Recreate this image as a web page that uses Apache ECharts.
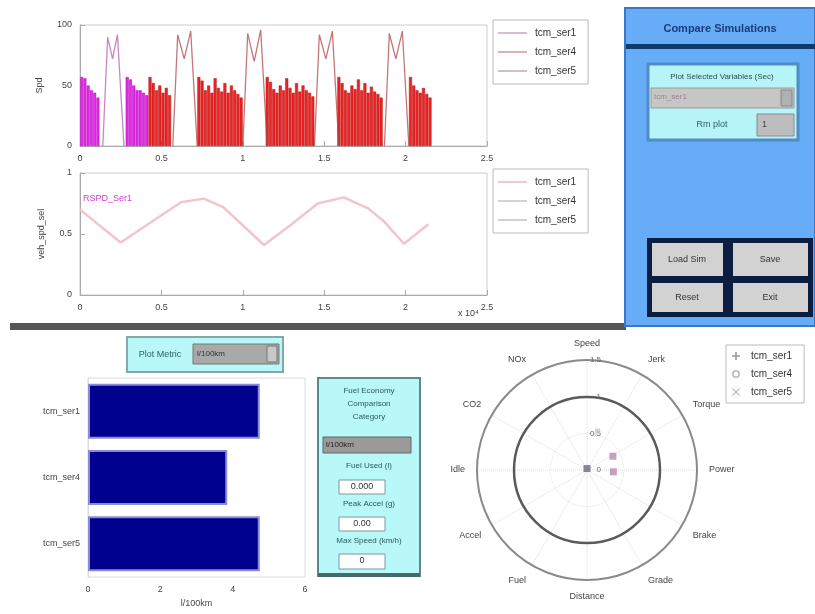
<!DOCTYPE html>
<html>
<head>
<meta charset="utf-8">
<title>Compare Simulations</title>
<script src="https://cdn.jsdelivr.net/npm/echarts@6/dist/echarts.min.js"></script>
<style>
  html, body { margin: 0; padding: 0; background: #ffffff; }
  #chart { width: 815px; height: 614px; }
</style>
</head>
<body>
<div id="chart"></div>
<script>
// ---- Speed bins (top plot), x in units of 10^4 ----
const ser1BinX = [0.01, 0.03, 0.05, 0.07, 0.09, 0.11, 0.29, 0.31, 0.33, 0.35, 0.37, 0.39, 0.41];
const ser1BinY = [57, 56, 50, 46, 44, 40, 57, 55, 50, 46, 46, 44, 42];

const ser4BinX = [0.43, 0.45, 0.47, 0.49, 0.51, 0.53, 0.55,
                  0.73, 0.75, 0.77, 0.79, 0.81, 0.83, 0.85, 0.87, 0.89, 0.91, 0.93, 0.95, 0.97, 0.99,
                  1.15, 1.17, 1.19, 1.21, 1.23, 1.25, 1.27, 1.29, 1.31, 1.33, 1.35, 1.37, 1.39, 1.41, 1.43,
                  1.59, 1.61, 1.63, 1.65, 1.67, 1.69, 1.71, 1.73, 1.75, 1.77, 1.79, 1.81, 1.83, 1.85,
                  2.03, 2.05, 2.07, 2.09, 2.11, 2.13, 2.15];
const ser4BinY = [57, 52, 46, 50, 44, 48, 42,
                  57, 54, 46, 50, 44, 56, 48, 45, 52, 44, 50, 46, 43, 40,
                  57, 53, 47, 44, 50, 46, 56, 48, 44, 52, 45, 50, 46, 44, 41,
                  57, 52, 46, 44, 50, 47, 55, 46, 52, 44, 49, 45, 43, 40,
                  57, 50, 46, 44, 48, 43, 40];

// Peak traces between the bins ('-' breaks the line)
const ser1PeakX = [0.14, 0.17, 0.20, 0.23, 0.27];
const ser1PeakY = [0, 90, 72, 92, 0];
const ser5PeakX = [0.57, 0.60, 0.64, 0.68, 0.72, 0.72,
                   1.00, 1.03, 1.07, 1.11, 1.15, 1.15,
                   1.44, 1.47, 1.51, 1.55, 1.59, 1.59,
                   1.87, 1.90, 1.94, 1.98, 2.02];
const ser5PeakY = [0, 92, 72, 95, 0, '-',
                   0, 93, 70, 96, 0, '-',
                   0, 92, 72, 95, 0, '-',
                   0, 93, 72, 95, 0];

// ---- Selected speed ratio (second plot) ----
const rspdX = [0.00, 0.25, 0.62, 0.76, 0.88, 1.13, 1.30, 1.46, 1.62, 1.77, 1.87, 1.99, 2.14];
const rspdY = [0.70, 0.43, 0.76, 0.79, 0.72, 0.41, 0.58, 0.75, 0.80, 0.71, 0.60, 0.42, 0.58];

// ---- Metric bars ----
const barCats = ['tcm_ser1', 'tcm_ser4', 'tcm_ser5'];
const barVals = [4.75, 3.85, 4.75];

// ---- Polar comparison (angle 0 = top, counter-clockwise) ----
const polarLabels = ['Speed', 'NOx', 'CO2', 'Idle', 'Accel', 'Fuel', 'Distance',
                     'Grade', 'Brake', 'Power', 'Torque', 'Jerk'];
const polarSer1 = [[0.02, 0]];
const polarSer4 = [[0.40, 298], [0.36, 266]];
const polarSer5 = [[0.55, 345]];

const xTicks = ['0', '0.5', '1', '1.5', '2', '2.5'];

const pair = (xs, ys) => xs.map((x, i) => [x, ys[i]]);
const FONT = 'Liberation Sans, Arial, sans-serif';
const TXT = '#444';

const chart = echarts.init(document.getElementById('chart'), null, { renderer: 'canvas' });

const axisCommon = {
  axisLine: { lineStyle: { color: '#aaa' } },
  axisTick: { inside: true, lineStyle: { color: '#aaa' } },
  axisLabel: { fontSize: 9, color: TXT, fontFamily: FONT },
  splitLine: { show: false }
};

function boxText(x, y, text, opts) {
  return Object.assign({
    type: 'text', x: x, y: y,
    style: { text: text, fill: '#333', font: '9px ' + FONT, textAlign: 'center', textVerticalAlign: 'middle' }
  }, opts || {});
}
function label8(x, y, text) {
  return boxText(x, y, text, { style: { text: text, fill: '#2a5a5a', font: '8px ' + FONT,
    textAlign: 'center', textVerticalAlign: 'middle' } });
}

const legendLine = (name, color) => ({ name: name, icon: 'rect',
  itemStyle: { color: color, borderWidth: 0, borderColor: color } });

const legendBox = {
  orient: 'vertical', itemWidth: 29, itemHeight: 2, itemGap: 9,
  padding: [8, 12, 8, 5], borderColor: '#bbb', borderWidth: 1, backgroundColor: '#fff',
  textStyle: { fontSize: 10, color: '#333', fontFamily: FONT, padding: [0, 0, 0, 3] }, selectedMode: false
};

const option = {
  animation: false,
  backgroundColor: '#ffffff',
  grid: [
    { left: 80, top: 25, width: 407, height: 121, show: true, borderColor: '#ccc', backgroundColor: '#fff' },
    { left: 80, top: 173, width: 407, height: 122, show: true, borderColor: '#ccc', backgroundColor: '#fff' },
    { left: 88, top: 378, width: 217, height: 199, show: true, borderColor: '#ddd', backgroundColor: '#fff' }
  ],
  xAxis: [
    Object.assign({}, axisCommon, { gridIndex: 0, type: 'value', min: 0, max: 2.5, interval: 0.5,
      axisLabel: Object.assign({}, axisCommon.axisLabel, { formatter: v => xTicks[Math.round(v / 0.5)] }) }),
    Object.assign({}, axisCommon, { gridIndex: 1, type: 'value', min: 0, max: 2.5, interval: 0.5,
      axisLabel: Object.assign({}, axisCommon.axisLabel, { formatter: v => xTicks[Math.round(v / 0.5)] }) }),
    Object.assign({}, axisCommon, { gridIndex: 2, type: 'value', min: 0, max: 6, interval: 2,
      name: 'l/100km', nameLocation: 'middle', nameGap: 22,
      nameTextStyle: { fontSize: 9, color: TXT, fontFamily: FONT } })
  ],
  yAxis: [
    Object.assign({}, axisCommon, { gridIndex: 0, type: 'value', min: 0, max: 100, interval: 50,
      name: 'Spd', nameLocation: 'middle', nameGap: 36, nameRotate: 90,
      nameTextStyle: { fontSize: 9, color: TXT, fontFamily: FONT } }),
    Object.assign({}, axisCommon, { gridIndex: 1, type: 'value', min: 0, max: 1, interval: 0.5,
      name: 'veh_spd_sel', nameLocation: 'middle', nameGap: 34, nameRotate: 90,
      nameTextStyle: { fontSize: 9, color: TXT, fontFamily: FONT } }),
    Object.assign({}, axisCommon, { gridIndex: 2, type: 'category', data: barCats, inverse: true,
      axisTick: { show: false }, axisLine: { lineStyle: { color: '#ddd' } } })
  ],
  polar: [
    { center: [587, 470], radius: 110 },
    { center: [587, 470], radius: 73 }
  ],
  angleAxis: [
    { polarIndex: 0, type: 'value', min: 0, max: 360, interval: 30, startAngle: 90, clockwise: false,
      axisLine: { lineStyle: { color: '#8a8a8a', width: 2 } },
      axisTick: { show: false },
      splitLine: { show: true, lineStyle: { color: '#dcdcdc', type: 'dotted' } },
      axisLabel: { fontSize: 9, color: TXT, fontFamily: FONT, margin: 12,
        formatter: v => (v >= 360 ? '' : polarLabels[Math.round(v / 30)]) } },
    { polarIndex: 1, type: 'value', min: 0, max: 360, startAngle: 90, clockwise: false,
      axisLine: { lineStyle: { color: '#5a5a5a', width: 2.5 } },
      axisTick: { show: false }, axisLabel: { show: false }, splitLine: { show: false } }
  ],
  radiusAxis: [
    { polarIndex: 0, min: 0, max: 1.5, interval: 0.5,
      axisLine: { show: false }, axisTick: { show: false },
      axisLabel: { fontSize: 8, color: '#666', fontFamily: FONT, margin: -14 },
      splitLine: { show: true, lineStyle: { color: '#e2e2e2', type: 'dotted' } } },
    { polarIndex: 1, min: 0, max: 1, axisLine: { show: false }, axisTick: { show: false },
      axisLabel: { show: false }, splitLine: { show: false } }
  ],
  legend: [
    Object.assign({}, legendBox, { left: 493, top: 20,
      data: [legendLine('tcm_ser1', '#d8bcd8'), legendLine('tcm_ser4', '#d8b4b4'), legendLine('tcm_ser5', '#cdc2c2')] }),
    Object.assign({}, legendBox, { left: 493, top: 169,
      data: [legendLine('tcm_ser1', '#f0c8d0'), legendLine('tcm_ser4', '#d8d0d0'), legendLine('tcm_ser5', '#d0d0d8')] }),
    { left: 726, top: 345, orient: 'vertical', itemWidth: 8, itemHeight: 8, itemGap: 8,
      padding: [6, 12, 6, 6], borderColor: '#bbb', borderWidth: 1, backgroundColor: '#fff',
      textStyle: { fontSize: 10, color: '#333', fontFamily: FONT, padding: [0, 0, 0, 6] }, selectedMode: false,
      data: [
        { name: 'tcm_ser1', icon: 'path://M4,0L6,0L6,4L10,4L10,6L6,6L6,10L4,10L4,6L0,6L0,4L4,4Z',
          itemStyle: { color: '#999', borderWidth: 0 } },
        { name: 'tcm_ser4', icon: 'path://M5,0A5,5,0,1,1,4.99,0ZM5,2A3,3,0,1,0,5.01,2Z',
          itemStyle: { color: '#bbb', borderWidth: 0 } },
        { name: 'tcm_ser5', icon: 'path://M1,0L5,4L9,0L10,1L6,5L10,9L9,10L5,6L1,10L0,9L4,5L0,1Z',
          itemStyle: { color: '#bbb', borderWidth: 0 } }
      ] }
  ],
  series: [
    { name: 'tcm_ser1', type: 'bar', xAxisIndex: 0, yAxisIndex: 0, barWidth: 3,
      itemStyle: { color: '#e428e4', borderColor: '#b010b8', borderWidth: 0.5 },
      data: pair(ser1BinX, ser1BinY) },
    { name: 'tcm_ser4', type: 'bar', xAxisIndex: 0, yAxisIndex: 0, barWidth: 3, barGap: '-100%',
      itemStyle: { color: '#ee2424', borderColor: '#b01212', borderWidth: 0.5 },
      data: pair(ser4BinX, ser4BinY) },
    { name: 'tcm_ser1', type: 'line', xAxisIndex: 0, yAxisIndex: 0, showSymbol: false,
      lineStyle: { color: '#b060b0', width: 1.3, opacity: 0.75 },
      data: pair(ser1PeakX, ser1PeakY) },
    { name: 'tcm_ser5', type: 'line', xAxisIndex: 0, yAxisIndex: 0, showSymbol: false,
      connectNulls: false,
      lineStyle: { color: '#b04848', width: 1.3, opacity: 0.75 },
      data: pair(ser5PeakX, ser5PeakY) },
    { name: 'tcm_ser1', type: 'line', xAxisIndex: 1, yAxisIndex: 1, showSymbol: false,
      lineStyle: { color: '#f2c4cc', width: 2.5 },
      data: pair(rspdX, rspdY) },
    { name: 'l/100km', type: 'bar', xAxisIndex: 2, yAxisIndex: 2, barCategoryGap: '17%',
      itemStyle: { color: '#00008e', borderColor: '#8a8ad8', borderWidth: 2 },
      data: barVals },
    { name: 'tcm_ser1', type: 'scatter', coordinateSystem: 'polar', polarIndex: 0,
      symbol: 'rect', symbolSize: 7, itemStyle: { color: '#6a6a80' }, data: polarSer1 },
    { name: 'tcm_ser4', type: 'scatter', coordinateSystem: 'polar', polarIndex: 0,
      symbol: 'rect', symbolSize: 7, itemStyle: { color: '#b88aa8' }, data: polarSer4 },
    { name: 'tcm_ser5', type: 'scatter', coordinateSystem: 'polar', polarIndex: 0,
      symbol: 'rect', symbolSize: 5, itemStyle: { color: '#c8c8d0' }, data: polarSer5 }
  ],
  graphic: [
    // annotation inside the second plot
    { type: 'text', x: 83, y: 194, z: 10,
      style: { text: 'RSPD_Ser1', fill: '#d040d0', font: '9px ' + FONT } },
    // exponent label
    { type: 'text', x: 458, y: 309, z: 10,
      style: { text: 'x 10\u2074', fill: '#444', font: '9px ' + FONT } },
    // section divider
    { type: 'rect', shape: { x: 10, y: 323, width: 616, height: 7 }, style: { fill: '#565656' } },

    // control panel
    { type: 'rect', shape: { x: 625, y: 8, width: 190, height: 318 },
      style: { fill: '#66acf6', stroke: '#3a78c4', lineWidth: 2 } },
    boxText(720, 29, 'Compare Simulations', { style: { text: 'Compare Simulations', fill: '#1c3c7c',
      font: 'bold 11px ' + FONT, textAlign: 'center', textVerticalAlign: 'middle' } }),
    { type: 'rect', shape: { x: 626, y: 44, width: 189, height: 5 }, style: { fill: '#0e3a6e' } },
    { type: 'rect', shape: { x: 648, y: 64, width: 150, height: 76 },
      style: { fill: '#b6f4f8', stroke: '#4f8cc8', lineWidth: 3 } },
    boxText(722, 77, 'Plot Selected Variables (Sec)', { style: { text: 'Plot Selected Variables (Sec)',
      fill: '#2a5050', font: '8px ' + FONT, textAlign: 'center', textVerticalAlign: 'middle' } }),
    { type: 'rect', shape: { x: 651, y: 88, width: 143, height: 20 }, style: { fill: '#c6c6c6', stroke: '#9a9a9a' } },
    { type: 'text', x: 654, y: 93, style: { text: 'tcm_ser1', fill: '#a08090', font: '8px ' + FONT } },
    { type: 'rect', shape: { x: 781, y: 90, width: 11, height: 16 }, style: { fill: '#b0b0b0', stroke: '#888' } },
    boxText(712, 125, 'Rm plot', { style: { text: 'Rm plot', fill: '#2e6060', font: '9px ' + FONT,
      textAlign: 'center', textVerticalAlign: 'middle' } }),
    { type: 'rect', shape: { x: 757, y: 114, width: 37, height: 22 }, style: { fill: '#bdbdbd', stroke: '#8a8a8a' } },
    { type: 'text', x: 762, y: 120, style: { text: '1', fill: '#444', font: '9px ' + FONT } },

    { type: 'rect', shape: { x: 647, y: 238, width: 166, height: 79 }, style: { fill: '#0b1e42' } },
    { type: 'rect', shape: { x: 652, y: 243, width: 71, height: 33 }, style: { fill: '#d2d2d2' } },
    { type: 'rect', shape: { x: 733, y: 243, width: 75, height: 33 }, style: { fill: '#d2d2d2' } },
    { type: 'rect', shape: { x: 652, y: 283, width: 71, height: 29 }, style: { fill: '#d2d2d2' } },
    { type: 'rect', shape: { x: 733, y: 283, width: 75, height: 29 }, style: { fill: '#d2d2d2' } },
    boxText(687, 260, 'Load Sim'),
    boxText(770, 260, 'Save'),
    boxText(687, 298, 'Reset'),
    boxText(770, 298, 'Exit'),

    // metric selector above the bars
    { type: 'rect', shape: { x: 127, y: 337, width: 156, height: 35 },
      style: { fill: '#b8f8f8', stroke: '#84a8a8', lineWidth: 2 } },
    boxText(160, 355, 'Plot Metric', { style: { text: 'Plot Metric', fill: '#2e5e5e', font: '9px ' + FONT,
      textAlign: 'center', textVerticalAlign: 'middle' } }),
    { type: 'rect', shape: { x: 193, y: 344, width: 86, height: 20 }, style: { fill: '#a9a9a9', stroke: '#777' } },
    { type: 'text', x: 197, y: 350, style: { text: 'l/100km', fill: '#333', font: '8px ' + FONT } },
    { type: 'rect', shape: { x: 267, y: 346, width: 10, height: 16 }, style: { fill: '#c8c8c8', stroke: '#777' } },

    // metric info box
    { type: 'rect', shape: { x: 318, y: 378, width: 102, height: 198 },
      style: { fill: '#b8f8f8', stroke: '#5c8a8a', lineWidth: 2 } },
    { type: 'rect', shape: { x: 318, y: 573, width: 102, height: 4 }, style: { fill: '#456a6a' } },
    label8(369, 391, 'Fuel Economy'),
    label8(369, 404, 'Comparison'),
    label8(369, 417, 'Category'),
    { type: 'rect', shape: { x: 323, y: 437, width: 88, height: 16 }, style: { fill: '#9a9a9a', stroke: '#666' } },
    { type: 'text', x: 326, y: 441, style: { text: 'l/100km', fill: '#222', font: '8px ' + FONT } },
    label8(369, 466, 'Fuel Used (l)'),
    { type: 'rect', shape: { x: 339, y: 480, width: 46, height: 14 }, style: { fill: '#ffffff', stroke: '#7a9a9a' } },
    boxText(362, 487, '0.000'),
    label8(369, 504, 'Peak Accel (g)'),
    { type: 'rect', shape: { x: 339, y: 517, width: 46, height: 14 }, style: { fill: '#ffffff', stroke: '#7a9a9a' } },
    boxText(362, 524, '0.00'),
    label8(369, 541, 'Max Speed (km/h)'),
    { type: 'rect', shape: { x: 339, y: 554, width: 46, height: 15 }, style: { fill: '#ffffff', stroke: '#7a9a9a' } },
    boxText(362, 561, '0')
  ]
};

chart.setOption(option);
</script>
</body>
</html>
